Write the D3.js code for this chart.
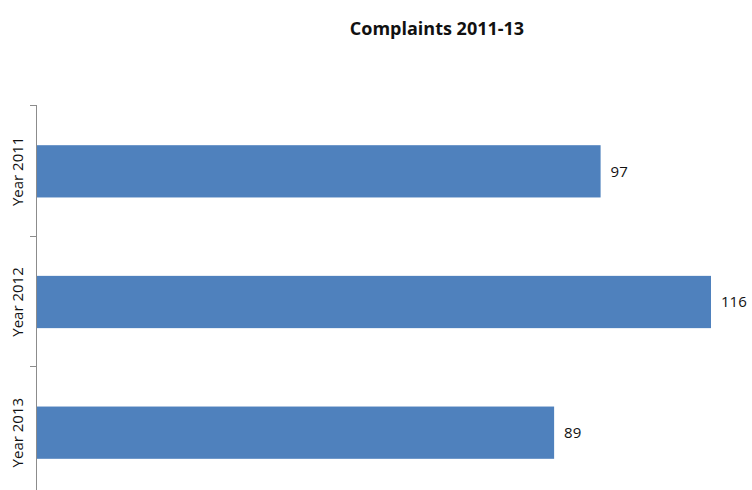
<!DOCTYPE html>
<html lang="en">

<head>
    <title>Complaints 2011-13</title>
    <meta charset="utf-8"/>
    <script src="https://d3js.org/d3.v7.min.js"></script>
    <style>
        body { margin: 0; background: #fff; }
        svg { display: block; font-family: "Open Sans", "DejaVu Sans", sans-serif; }
    </style>
</head>

<body>
<svg id="chart" width="752" height="490"></svg>

<script>
    // datos
    const years = ["Year 2011", "Year 2012", "Year 2013"];
    const complaints = [97, 116, 89];
    const title = "Complaints 2011-13";

    const svg = d3.select("#chart");

    // escalas
    const x = d3.scaleLinear()
        .domain([0, 116])
        .range([37, 711]);

    const y = d3.scaleBand()
        .domain(years)
        .range([106, 498])
        .paddingInner(0.6)
        .paddingOuter(0.3);

    const half = y.step() * y.paddingInner() / 2;

    // titulo
    svg.append("text")
        .attr("x", 437)
        .attr("y", 35)
        .attr("text-anchor", "middle")
        .style("font-size", "18px")
        .style("font-weight", "bold")
        .style("fill", "#111")
        .text(title);

    // barras
    svg.selectAll("rect.bar")
        .data(years).enter()
        .append("rect")
        .attr("class", "bar")
        .attr("x", x(0))
        .attr("y", d => y(d))
        .attr("width", (d, i) => x(complaints[i]) - x(0))
        .attr("height", y.bandwidth())
        .style("fill", "#4f81bd");

    // etiquetas de valor
    svg.selectAll("text.value")
        .data(years).enter()
        .append("text")
        .attr("class", "value")
        .attr("x", (d, i) => x(complaints[i]) + 10)
        .attr("y", d => y(d) + y.bandwidth() / 2)
        .attr("dy", "0.35em")
        .style("font-size", "15px")
        .style("fill", "#111")
        .text((d, i) => complaints[i]);

    // eje vertical
    svg.append("line")
        .attr("x1", 36.5).attr("x2", 36.5)
        .attr("y1", y.range()[0] - 1).attr("y2", 490)
        .style("stroke", "#8c8c8c");

    // marcas entre categorias
    svg.selectAll("line.tick")
        .data(years).enter()
        .append("line")
        .attr("class", "tick")
        .attr("x1", 30).attr("x2", 36.5)
        .attr("y1", d => Math.round(y(d) - half) - 0.5)
        .attr("y2", d => Math.round(y(d) - half) - 0.5)
        .style("stroke", "#8c8c8c");

    // etiquetas de categoria
    svg.selectAll("text.cat")
        .data(years).enter()
        .append("text")
        .attr("class", "cat")
        .attr("transform", d => `translate(18,${y(d) + y.bandwidth() / 2}) rotate(-90)`)
        .attr("text-anchor", "middle")
        .attr("dy", "0.35em")
        .style("font-size", "15px")
        .style("fill", "#111")
        .text(d => d);
</script>
</body>

</html>
